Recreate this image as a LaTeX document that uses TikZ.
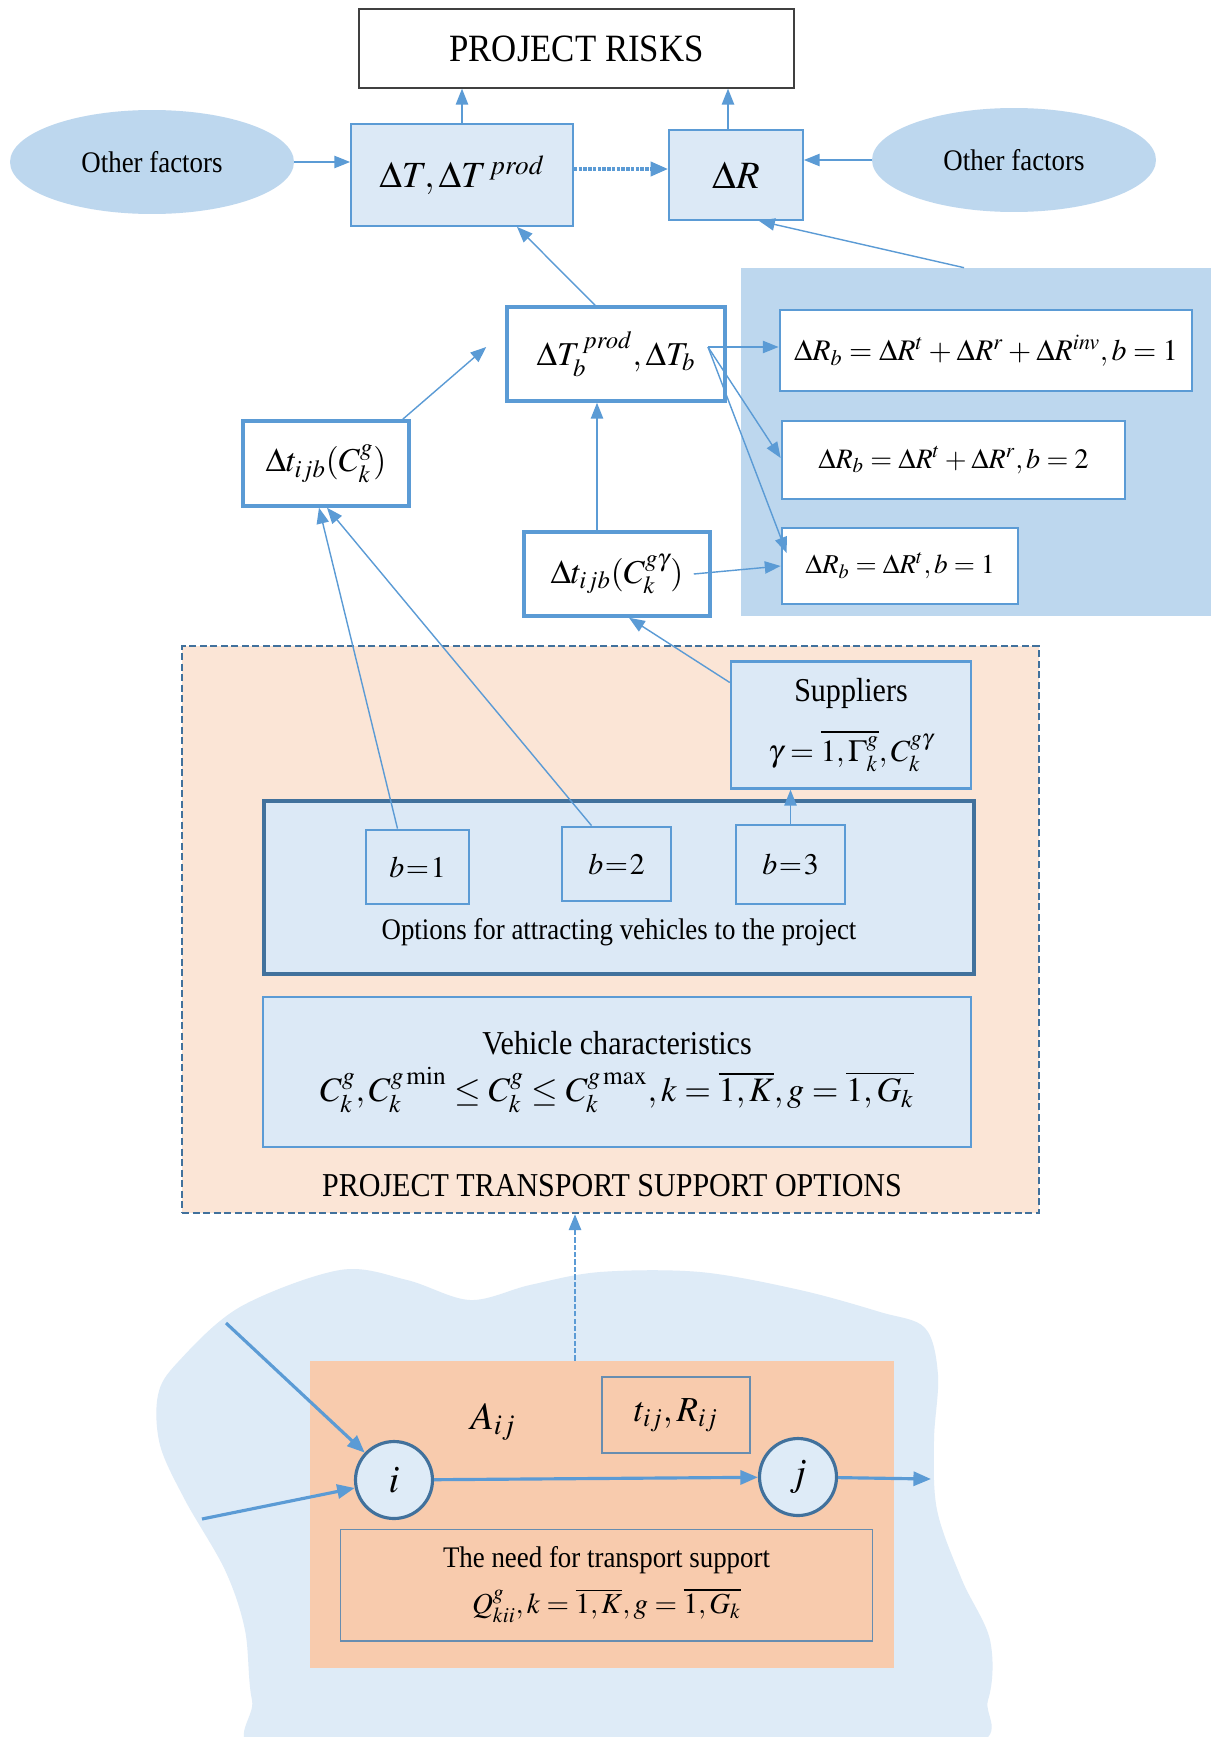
\documentclass[tikz,border=0pt]{standalone}
\usepackage{mathptmx}
\usepackage{fontspec}
\setmainfont{Liberation Serif}[FakeStretch=0.9]
\usepackage{xcolor}
\usetikzlibrary{shapes.geometric, arrows.meta, positioning}
\definecolor{lineblue}{RGB}{91,155,213}
\definecolor{darkblue}{RGB}{65,113,156}
\definecolor{paleblue}{RGB}{220,233,246}
\definecolor{zoneblue}{RGB}{189,215,238}
\definecolor{cloudblue}{RGB}{222,235,247}
\definecolor{peach}{RGB}{251,229,214}
\definecolor{apricot}{RGB}{248,203,173}
\newcommand{\tightrel}{\thickmuskip=1mu\relax}
\tikzset{
    riskbox/.style={rectangle, draw=black!75, fill=white, line width=0.8pt,
                    font=\fontsize{22}{26}\selectfont},
    factor/.style={ellipse, fill=zoneblue, minimum width=5.68cm, minimum height=2.08cm,
                   font=\fontsize{17}{20}\selectfont},
    lbox/.style={rectangle, draw=lineblue, fill=paleblue, line width=1pt,
                 font=\fontsize{21}{25}\selectfont},
    wbox/.style={rectangle, draw=lineblue, fill=white, line width=2pt,
                 font=\fontsize{19}{22}\selectfont},
    bbox/.style={rectangle, draw=lineblue, fill=paleblue, line width=1.6pt,
                 font=\fontsize{17}{20}\selectfont\tightrel},
    optbox/.style={rectangle, draw=lineblue, fill=paleblue, line width=1.4pt, align=center,
                   font=\fontsize{19}{22}\selectfont},
    thinbox/.style={rectangle, draw=darkblue!80, line width=0.6pt, align=center,
                    font=\fontsize{17}{20}\selectfont},
    vertex/.style={circle, draw=darkblue, fill=cloudblue, line width=1.8pt, minimum size=1.54cm,
                   font=\fontsize{22}{26}\selectfont},
    label/.style={font=\fontsize{17}{20}\selectfont},
    arrow/.style={lineblue, line width=0.8pt, -{Triangle[length=9pt,width=7pt]}},
    boldarrow/.style={lineblue, line width=1.8pt, -{Triangle[length=10pt,width=8pt]}}
}

\begin{document}
\thickmuskip=4mu plus 2mu\relax
\medmuskip=3mu plus 1mu\relax
\begin{tikzpicture}[x=0.02cm, y=-0.02cm, every node/.style={inner sep=0pt}]
    \useasboundingbox[fill=white] (0,0) rectangle (1211,1737);

    % Background areas
    \fill[cloudblue] plot[smooth cycle, tension=0.55] coordinates {
        (158,1395) (178,1362) (240,1307) (340,1270) (407,1280) (470,1300) (530,1285)
        (600,1272) (700,1272) (800,1290) (880,1312) (925,1328) (938,1375) (934,1440)
        (937,1510) (962,1580) (990,1640) (988,1700) (955,1750) (600,1765) (273,1755)
        (252,1700) (245,1630) (225,1570) (185,1500) (160,1445)};
    \node[rectangle, fill=zoneblue, minimum width=9.4cm, minimum height=6.96cm] (rbzone) at (976,442) {};
    \node[rectangle, fill=peach, draw=darkblue, line width=1.5pt, dash pattern=on 4pt off 2pt,
          minimum width=17.14cm, minimum height=11.34cm] (ptso) at (610.5,929.5) {};
    \node[rectangle, fill=apricot, minimum width=11.68cm, minimum height=6.14cm] (arc) at (602,1514.5) {};

    % Project risks level
    \node[riskbox, minimum width=8.7cm, minimum height=1.58cm] (risks) at (576.5,48.5) {PROJECT RISKS};
    \node[factor] (othL) at (152,162) {Other factors};
    \node[factor] (othR) at (1014,160) {Other factors};
    \node[lbox, minimum width=4.44cm, minimum height=2.04cm] (dT) at (462,175) {$\Delta T,\Delta T^{\,prod}$};
    \node[lbox, font=\fontsize{22}{26}\selectfont, minimum width=2.68cm, minimum height=1.8cm] (dR) at (736,175)
        {$\Delta R$\hspace{0.6cm}};

    % Time and risk changes
    \node[wbox, minimum width=4.36cm, minimum height=1.88cm] (dTb) at (616,354) {$\Delta T_b^{\,prod},\Delta T_b$};
    \node[wbox, line width=1.6pt, font=\fontsize{17}{20}\selectfont, minimum width=8.24cm, minimum height=1.62cm] (rb1) at (986,350.5)
        {$\Delta R_b=\Delta R^t+\Delta R^r+\Delta R^{inv}, b=1$};
    \node[wbox, line width=1.6pt, font=\fontsize{16}{19}\selectfont, minimum width=6.86cm, minimum height=1.56cm] (rb2) at (953.5,460)
        {$\Delta R_b=\Delta R^t+\Delta R^r, b=2$};
    \node[wbox, line width=1.6pt, font=\fontsize{15.5}{19}\selectfont, minimum width=4.72cm, minimum height=1.52cm] (rb3) at (900,566)
        {$\Delta R_b=\Delta R^t, b=1$};
    \node[wbox, minimum width=3.32cm, minimum height=1.7cm] (dtg) at (326,463.5) {$\Delta t_{ijb}(C_k^g)$};
    \node[wbox, minimum width=3.72cm, minimum height=1.68cm] (dtgg) at (617,574) {$\Delta t_{ijb}(C_k^{g\gamma})$};

    % Transport support options
    \node[optbox, minimum width=4.8cm, minimum height=2.54cm] (supp) at (851,725)
        {Suppliers\\[12pt]\fontsize{17.5}{21}\selectfont$\gamma=\overline{1,\Gamma_k^g}, C_k^{g\gamma}$};
    \node[optbox, draw=darkblue, line width=2pt, minimum width=14.2cm, minimum height=3.46cm] (options) at (619,887.5) {};
    \node[label] (optlabel) at (619,932) {Options for attracting vehicles to the project};
    \node[bbox, minimum width=2.06cm, minimum height=1.48cm] (b1) at (417.5,867) {$b=1$};
    \node[bbox, minimum width=2.18cm, minimum height=1.48cm] (b2) at (616.5,864) {$b=2$};
    \node[bbox, minimum width=2.18cm, minimum height=1.58cm] (b3) at (790.5,864.5) {$b=3$};
    \node[optbox, minimum width=14.16cm, minimum height=3cm] (vehicle) at (617,1072)
        {Vehicle characteristics\\[5pt]\fontsize{19.5}{23}\selectfont
         $C_k^g, C_k^{g\min}\le C_k^g\le C_k^{g\max}, k=\overline{1,K}, g=\overline{1,G_k}$};
    \node[label, font=\fontsize{19}{22}\selectfont] (ptsolabel) at (612,1186) {PROJECT TRANSPORT SUPPORT OPTIONS};

    % Network arc
    \node[vertex] (i) at (394,1480) {$i$};
    \node[vertex] (j) at (798,1477) {$j$};
    \node[label, font=\fontsize{22}{26}\selectfont] (aij) at (493,1422) {$A_{ij}$};
    \node[thinbox, minimum width=2.96cm, minimum height=1.52cm, font=\fontsize{20}{24}\selectfont] (tR) at (676,1415) {$t_{ij},R_{ij}$};
    \node[thinbox, minimum width=10.66cm, minimum height=2.24cm] (need) at (606.5,1585)
        {The need for transport support\\[6pt]\fontsize{16.5}{20}\selectfont
         $Q_{kii}^g, k=\overline{1,K}, g=\overline{1,G_k}$};
    \coordinate (in1) at (226,1323);
    \coordinate (in2) at (202,1519);
    \coordinate (out) at (931,1479);
    \coordinate (tbout) at (708,347);

    % Arrows
    \draw[arrow] (dT.north) -- (dT.north |- risks.south);
    \draw[arrow] ([xshift=-0.16cm]dR.north) -- ([xshift=-0.16cm]dR.north |- risks.south);
    \draw[arrow] (othL.east) -- (othL.east -| dT.west);
    \draw[arrow] (othR.west) -- (othR.west -| dR.east);
    \draw[lineblue, line width=2.2pt, dash pattern=on 2pt off 0.7pt, -{Triangle[length=10pt,width=8pt]}]
        ([yshift=0.12cm]dT.east) -- ([yshift=0.12cm]dR.west);
    \draw[arrow] ([xshift=-0.24cm]rbzone.north) -- ([xshift=0.46cm]dR.south);
    \draw[arrow] ([xshift=-0.42cm]dTb.north) -- ([xshift=1.1cm]dT.south);
    \draw[arrow] ([xshift=-0.16cm]dtg.north east) -- ([xshift=-0.38cm,yshift=0.14cm]dTb.west);
    \draw[arrow] ([xshift=-0.4cm]dtgg.north) -- ([xshift=-0.4cm]dtgg.north |- dTb.south);
    \draw[arrow] (tbout) -- (tbout -| rb1.west);
    \draw[arrow] (tbout) -- ([yshift=0.04cm]rb2.west);
    \draw[arrow] (tbout) -- ([xshift=0.12cm,yshift=0.26cm]rb3.west);
    \draw[arrow] ([xshift=-0.36cm]dtgg.east) -- (rb3.west);
    \draw[arrow] ([xshift=-0.4cm]b1.north) -- ([xshift=-0.14cm]dtg.south);
    \draw[arrow] ([xshift=-0.5cm]b2.north) -- ([xshift=0.02cm]dtg.south);
    \draw[arrow] ([yshift=0.85cm]supp.west) -- ([xshift=0.24cm]dtgg.south);
    \draw[arrow] (b3.north) -- (b3.north |- supp.south);
    \draw[lineblue, line width=1pt, dash pattern=on 3pt off 1.2pt, -{Triangle[length=9pt,width=7pt]}]
        ([xshift=-0.54cm]arc.north) -- ([xshift=-0.54cm]arc.north |- ptso.south);
    \draw[boldarrow] (in1) -- (i);
    \draw[boldarrow] (in2) -- (i);
    \draw[boldarrow] (i) -- (j);
    \draw[boldarrow] (j) -- (out);
\end{tikzpicture}
\end{document}
